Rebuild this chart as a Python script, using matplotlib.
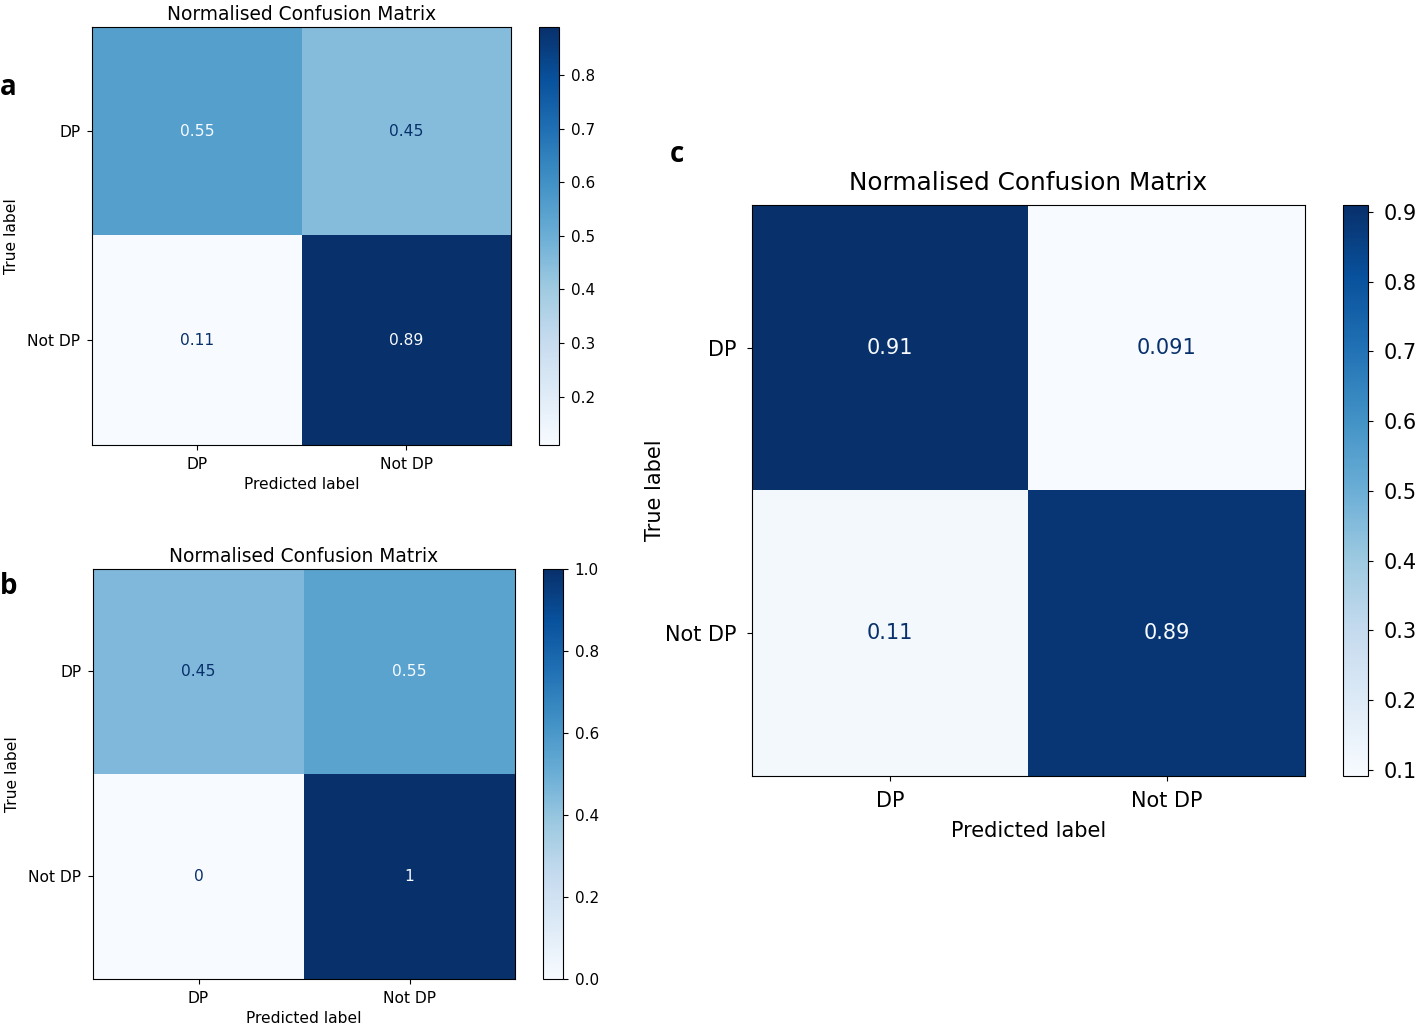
import numpy as np
import matplotlib
matplotlib.use("Agg")
import matplotlib.pyplot as plt

# ─────────────────────────────────────────────
# DATA — normalised confusion matrices
# ─────────────────────────────────────────────
class_labels = ["DP", "Not DP"]

cm_a = [[0.55, 0.45],
        [0.11, 0.89]]
cm_b = [[0.45, 0.55],
        [0.0, 1.0]]
cm_c = [[0.91, 0.091],
        [0.11, 0.89]]

cbar_ticks_a = [0.2, 0.3, 0.4, 0.5, 0.6, 0.7, 0.8]
cbar_ticks_b = [0.0, 0.2, 0.4, 0.6, 0.8, 1.0]
cbar_ticks_c = [0.1, 0.2, 0.3, 0.4, 0.5, 0.6, 0.7, 0.8, 0.9]

title = "Normalised Confusion Matrix"
cmap = plt.get_cmap("Blues")


def draw_cm(fig, ax_rect, cb_rect, cm, cbar_ticks, fs_tick, fs_title, fs_cb,
            pad=3.5, ylabelpad=4.0, xlabelpad=4.0, titlepad=6.0):
    """Draws one confusion matrix in sklearn's ConfusionMatrixDisplay style."""
    cm = np.array(cm)
    ax = fig.add_axes(ax_rect)
    cax = fig.add_axes(cb_rect)
    im = ax.imshow(cm, cmap=cmap, interpolation="nearest", aspect="auto")

    # text colour flips at the colour midpoint, like sklearn
    thresh = (cm.max() + cm.min()) / 2.0
    for i in range(cm.shape[0]):
        for j in range(cm.shape[1]):
            color = cmap(0.0) if cm[i, j] > thresh else cmap(1.0)
            ax.text(j, i, format(cm[i, j], ".2g"), ha="center", va="center",
                    color=color, fontsize=fs_tick)

    ax.set_xticks(range(len(class_labels)))
    ax.set_yticks(range(len(class_labels)))
    ax.set_xticklabels(class_labels, fontsize=fs_tick)
    ax.set_yticklabels(class_labels, fontsize=fs_tick)
    ax.tick_params(pad=pad)
    ax.set_xlabel("Predicted label", fontsize=fs_tick, labelpad=xlabelpad)
    ax.set_ylabel("True label", fontsize=fs_tick, labelpad=ylabelpad)
    ax.set_title(title, fontsize=fs_title, pad=titlepad)

    cb = fig.colorbar(im, cax=cax)
    cb.set_ticks(cbar_ticks)
    cb.ax.tick_params(labelsize=fs_cb, pad=pad)
    return ax


fig = plt.figure(figsize=(14.16, 10.25), dpi=100)

draw_cm(fig, [0.065, 0.566, 0.296, 0.408], [0.3806, 0.566, 0.0141, 0.408],
        cm_a, cbar_ticks_a, 11.2, 13.4, 11.0, pad=5.0, ylabelpad=6.0, titlepad=5.0)
draw_cm(fig, [0.0657, 0.045, 0.298, 0.400], [0.3835, 0.045, 0.0141, 0.400],
        cm_b, cbar_ticks_b, 11.2, 13.4, 11.0, pad=5.0, ylabelpad=6.0, titlepad=5.0)
draw_cm(fig, [0.531, 0.243, 0.3905, 0.557], [0.9484, 0.243, 0.0177, 0.557],
        cm_c, cbar_ticks_c, 15.0, 17.8, 15.0, pad=7.5, ylabelpad=0.0,
        xlabelpad=7.0, titlepad=11.0)

# panel letters
letter_font = dict(fontsize=20, fontweight="bold", family=["Open Sans", "DejaVu Sans"])
fig.text(0.0, 0.915, "a", ha="left", va="center", **letter_font)
fig.text(0.0, 0.428, "b", ha="left", va="center", **letter_font)
fig.text(0.473, 0.849, "c", ha="left", va="center", **letter_font)

fig.savefig("out.png", dpi=100)
